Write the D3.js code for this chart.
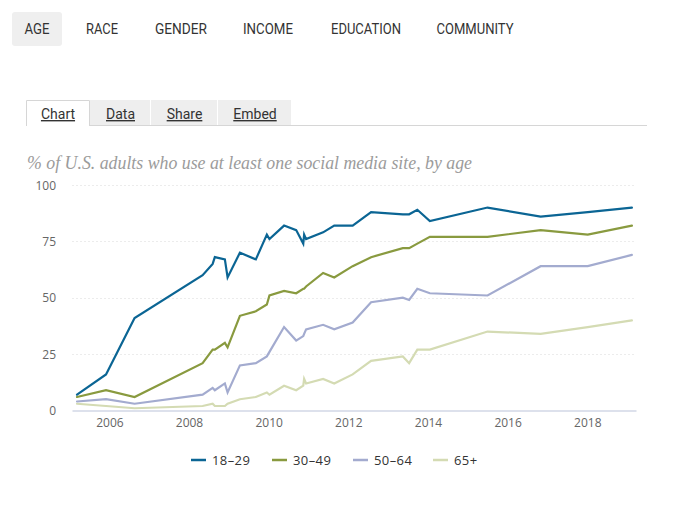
<!DOCTYPE html>
<html>
<head>
<meta charset="utf-8">
<script src="https://cdn.jsdelivr.net/npm/d3@7"></script>
<style>
  html, body { margin: 0; padding: 0; background: #fff; }
  svg { display: block; }
</style>
</head>
<body>
<svg id="chart" width="700" height="512"></svg>
<script>
// ---- Data ----
const navItems = ["AGE", "RACE", "GENDER", "INCOME", "EDUCATION", "COMMUNITY"];
const tabItems = ["Chart", "Data", "Share", "Embed"];
const titleText = "% of U.S. adults who use at least one social media site, by age";

const dates = [
  "2005-03-10", "2005-12-01", "2006-08-20", "2008-05-05", "2008-08-05", "2008-08-25",
  "2008-11-25", "2008-12-20", "2009-04-12", "2009-09-05", "2009-12-15", "2010-01-08",
  "2010-05-22", "2010-09-10", "2010-11-14", "2010-11-22", "2010-12-10", "2011-05-15",
  "2011-08-25", "2012-02-10", "2012-07-28", "2013-05-15", "2013-07-12", "2013-09-25",
  "2014-01-18", "2015-07-01", "2016-10-30", "2018-01-05", "2019-02-14"
];
const seriesNames = ["18\u201329", "30\u201349", "50\u201364", "65+"];
const age18_29 = [7,16,41,60,65,68,67,59,70,67,78,76,82,80,74,78,76,79,82,82,88,87,87,89,84,90,86,88,90];
const age30_49 = [6,9,6,21,27,27,30,28,42,44,47,51,53,52,54,54,55,61,59,64,68,72,72,74,77,77,80,78,82];
const age50_64 = [4,5,3,7,10,9,12,8,20,21,24,26,37,31,33,34,36,38,36,39,48,50,49,54,52,51,64,64,69];
const age65plus = [3,2,1,2,3,2,2,3,5,6,8,7,11,9,11,14,12,14,12,16,22,24,21,27,27,35,34,37,40];
const yTicks = [0, 25, 50, 75, 100];
const xTickYears = [2006, 2008, 2010, 2012, 2014, 2016, 2018];

// ---- Styles ----
const colors = ["#0b6594", "#899a3f", "#a3abcf", "#d4dbb3"];
const svg = d3.select("#chart");
const parse = d3.timeParse("%Y-%m-%d");
const allSeries = [age18_29, age30_49, age50_64, age65plus].map((vals, i) => ({
  name: seriesNames[i], color: colors[i],
  values: vals.map((v, j) => ({ date: parse(dates[j]), value: v }))
}));

// ---- Top navigation ----
const navCenters = [37, 102, 181, 268, 366, 475];
const navWidths = [25, 32, 52, 50, 70, 77];
svg.append("rect").attr("x", 12).attr("y", 12).attr("width", 50).attr("height", 34)
  .attr("rx", 3).attr("fill", "#efefef");
svg.selectAll("text.nav").data(navItems).join("text")
  .attr("class", "nav")
  .attr("x", (d, i) => navCenters[i] - navWidths[i] / 2)
  .attr("y", 34)
  .attr("textLength", (d, i) => navWidths[i])
  .attr("lengthAdjust", "spacingAndGlyphs")
  .attr("font-family", "Roboto, 'Liberation Sans', sans-serif")
  .attr("font-size", 14)
  .attr("fill", "#333")
  .text(d => d);

// ---- Tabs ----
const tabEdges = [26, 90, 151, 218, 292];
svg.append("line").attr("x1", 26).attr("x2", 647).attr("y1", 125.5).attr("y2", 125.5)
  .attr("stroke", "#d6d6d6");
tabItems.forEach((t, i) => {
  const x0 = tabEdges[i], x1 = tabEdges[i + 1];
  if (i === 0) {
    svg.append("path")
      .attr("d", `M${x0 + 0.5},126 V100.5 H${x1 - 0.5} V126`)
      .attr("fill", "#fff").attr("stroke", "#d6d6d6");
  } else {
    svg.append("rect").attr("x", x0).attr("y", 100).attr("width", x1 - x0 - 1).attr("height", 25)
      .attr("fill", "#eeeeee");
  }
  svg.append("text")
    .attr("x", (x0 + x1) / 2).attr("y", 119)
    .attr("text-anchor", "middle")
    .attr("font-family", "Roboto, 'Liberation Sans', sans-serif")
    .attr("font-size", 14)
    .attr("fill", "#333")
    .attr("text-decoration", "underline")
    .text(t);
});

// ---- Title ----
svg.append("text")
  .attr("x", 27).attr("y", 169)
  .attr("font-family", "'Liberation Serif', 'DejaVu Serif', serif")
  .attr("font-style", "italic")
  .attr("font-size", 18)
  .attr("fill", "#9b9b9b")
  .attr("textLength", 445)
  .attr("lengthAdjust", "spacingAndGlyphs")
  .text(titleText);

// ---- Scales ----
const plotLeft = 72.5, plotRight = 636.5;
const x = d3.scaleTime()
  .domain([new Date(2006, 0, 1), new Date(2018, 0, 1)])
  .range([109.4, 587.3]);
const y = d3.scaleLinear().domain([0, 100]).range([410.5, 185]);

// Grid
svg.append("g").selectAll("line").data(yTicks.filter(d => d > 0)).join("line")
  .attr("x1", plotLeft).attr("x2", plotRight)
  .attr("y1", d => Math.round(y(d)) + 0.5).attr("y2", d => Math.round(y(d)) + 0.5)
  .attr("stroke", "#d8d8d8").attr("stroke-dasharray", "1,3");

// Y axis labels
const yAxis = d3.axisLeft(y).tickValues(yTicks).tickSize(0).tickPadding(0);
const gy = svg.append("g").attr("transform", "translate(56,0)").call(yAxis);
gy.select(".domain").remove();
gy.selectAll("text").attr("font-family", "'Open Sans', sans-serif").attr("font-size", 12)
  .attr("fill", "#666").attr("dy", "0.35em");

// X axis baseline
svg.append("line").attr("x1", plotLeft).attr("x2", plotRight)
  .attr("y1", y(0) + 0.5).attr("y2", y(0) + 0.5)
  .attr("stroke", "#dde1ec").attr("stroke-width", 2);

const xAxis = d3.axisBottom(x)
  .tickValues(xTickYears.map(yr => new Date(yr, 0, 1)))
  .tickFormat(d3.timeFormat("%Y")).tickSize(0).tickPadding(0);
const gx = svg.append("g").attr("transform", "translate(0,418)").call(xAxis);
gx.select(".domain").remove();
gx.selectAll("text").attr("font-family", "'Open Sans', sans-serif").attr("font-size", 12)
  .attr("fill", "#666").attr("dy", "0.71em");

// Lines
const line = d3.line().x(d => x(d.date)).y(d => y(d.value));
svg.append("g").selectAll("path").data(allSeries.slice().reverse()).join("path")
  .attr("d", d => line(d.values))
  .attr("fill", "none")
  .attr("stroke", d => d.color)
  .attr("stroke-width", 2.2)
  .attr("stroke-linejoin", "miter")
  .attr("stroke-linecap", "round");

// Legend
const legendX = [191, 272, 353, 433];
const lg = svg.append("g").selectAll("g").data(allSeries).join("g")
  .attr("transform", (d, i) => `translate(${legendX[i]},460)`);
lg.append("line").attr("x1", 0).attr("x2", 15).attr("y1", 0).attr("y2", 0)
  .attr("stroke", d => d.color).attr("stroke-width", 2.5);
lg.append("text").attr("x", 21).attr("y", 0).attr("dy", "0.35em")
  .attr("font-family", "'Open Sans', sans-serif").attr("font-size", 13)
  .attr("letter-spacing", "0.4px")
  .attr("fill", "#333")
  .text(d => d.name);
</script>
</body>
</html>
